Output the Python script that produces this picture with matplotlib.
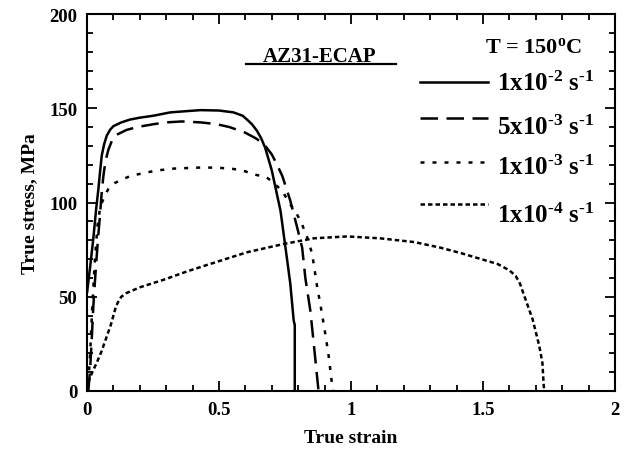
import matplotlib
matplotlib.use("Agg")
import matplotlib.pyplot as plt
from matplotlib.ticker import MultipleLocator
from matplotlib.lines import Line2D

plt.rcParams['font.family'] = ['Liberation Serif', 'DejaVu Serif']
plt.rcParams['font.weight'] = 'bold'
plt.rcParams['mathtext.fontset'] = 'custom'
plt.rcParams['mathtext.rm'] = 'Liberation Serif:bold'
plt.rcParams['mathtext.it'] = 'Liberation Serif:bold'
plt.rcParams['mathtext.bf'] = 'Liberation Serif:bold'
plt.rcParams['mathtext.default'] = 'rm'

# ---- data ----
strain_1e2 = [0, 0.012, 0.024, 0.035, 0.043, 0.05, 0.056, 0.065, 0.075, 0.087, 0.1, 0.13,
              0.163, 0.2, 0.25, 0.315, 0.38, 0.43, 0.5, 0.555, 0.59, 0.606, 0.625, 0.644,
              0.66, 0.675, 0.70, 0.72, 0.733, 0.75, 0.77, 0.783, 0.787, 0.787]
stress_1e2 = [52, 66, 81, 97, 107, 117, 125, 131, 135.5, 138.5, 140.5, 142.5,
              144, 145, 146, 147.8, 148.5, 149, 148.8, 147.8, 146, 144, 141.5, 138,
              134, 129, 117, 104, 95.6, 78, 57, 37.3, 35, 0]

strain_5e3 = [0.005, 0.012, 0.018, 0.024, 0.03, 0.037, 0.043, 0.049, 0.055, 0.062, 0.07,
              0.081, 0.095, 0.113, 0.15, 0.189, 0.25, 0.30, 0.36, 0.43, 0.49, 0.54, 0.6,
              0.64, 0.67, 0.70, 0.72, 0.74, 0.77, 0.796, 0.815, 0.827, 0.846, 0.859,
              0.872, 0.877]
stress_5e3 = [0, 12, 27.6, 45, 58, 72, 83, 93, 104, 114, 122,
              128, 133, 136, 138.5, 140, 141.5, 142.5, 143, 142.5, 141.6, 140, 137,
              134, 131, 125.5, 120, 114, 101, 86.8, 76, 60, 42.6, 25,
              7, 0]

strain_1e3 = [0.005, 0.012, 0.02, 0.03, 0.04, 0.049, 0.058, 0.068, 0.08, 0.1, 0.13, 0.163,
              0.21, 0.265, 0.33, 0.44, 0.5, 0.555, 0.6, 0.63, 0.68, 0.71, 0.74, 0.77,
              0.79, 0.81, 0.834, 0.853, 0.872, 0.884, 0.903, 0.916, 0.928, 0.932]
stress_1e3 = [4.6, 20, 45, 70, 88, 96.5, 100.5, 103.6, 107, 110, 112, 114,
              115.5, 117, 118, 118.6, 118.4, 117.8, 116.5, 115, 113.4, 110, 106, 99,
              95, 90, 81.5, 72.7, 55, 46, 30, 18, 3.7, 0]

strain_1e4 = [0.005, 0.02, 0.037, 0.055, 0.075, 0.09, 0.1, 0.11, 0.119, 0.13, 0.15, 0.2,
              0.29, 0.38, 0.48, 0.606, 0.745, 0.859, 0.985, 1.11, 1.24, 1.34, 1.42,
              1.48, 1.555, 1.60, 1.624, 1.64, 1.656, 1.688, 1.713, 1.725, 1.73, 1.732]
stress_1e4 = [4.6, 10, 15, 21, 29, 35, 40, 45, 47.5, 50, 52, 55,
              59, 63.5, 68, 73.6, 78, 81, 82, 81, 79, 76, 73,
              70.5, 67.4, 64, 61, 57, 50.6, 38, 24, 15, 3, 0]

labels = [r'1x10$^{\text{-}2}$ s$^{\text{-}1}$', r'5x10$^{\text{-}3}$ s$^{\text{-}1}$',
          r'1x10$^{\text{-}3}$ s$^{\text{-}1}$', r'1x10$^{\text{-}4}$ s$^{\text{-}1}$']
x_ticks = [0, 0.5, 1, 1.5, 2]
x_ticklabels = ['0', '0.5', '1', '1.5', '2']
y_ticks = [0, 50, 100, 150, 200]

fig = plt.figure(figsize=(6.28, 4.52), dpi=100)
ax = fig.add_axes([87/628, 1-392/452, 528/628, 377/452])

LW = 1.8
styles = [dict(linestyle='-'),
          dict(dashes=(7.0, 3.4)),
          dict(dashes=(1.6, 3.2)),
          dict(dashes=(1.8, 1.2))]
series = [(strain_1e2, stress_1e2), (strain_5e3, stress_5e3),
          (strain_1e3, stress_1e3), (strain_1e4, stress_1e4)]
for (xs, ys), st in zip(series, styles):
    ax.plot(xs, ys, color='black', lw=LW, solid_capstyle='butt', dash_capstyle='butt', **st)

ax.set_xlim(0, 2)
ax.set_ylim(0, 200)
ax.set_xticks(x_ticks)
ax.set_xticklabels(x_ticklabels)
ax.set_yticks(y_ticks)
ax.xaxis.set_minor_locator(MultipleLocator(0.1))
ax.yaxis.set_minor_locator(MultipleLocator(10))
ax.tick_params(which='both', direction='in', top=True, right=True, width=1.3,
               labelsize=13.5, pad=7)
ax.tick_params(which='major', length=7)
ax.tick_params(which='minor', length=4)
for sp in ax.spines.values():
    sp.set_linewidth(1.5)
for lab in ax.get_xticklabels() + ax.get_yticklabels():
    lab.set_fontweight('bold')

ax.set_xlabel('True strain', fontsize=14, fontweight='bold', labelpad=8)
ax.set_ylabel('True stress, MPa', fontsize=14, fontweight='bold', labelpad=8)

# legend drawn manually
handle_y = [0.820, 0.724, 0.607, 0.496]
text_y = [0.798, 0.682, 0.576, 0.448]
for hy, ty, st, lab in zip(handle_y, text_y, styles, labels):
    ax.add_line(Line2D([0.631, 0.759], [hy, hy], transform=ax.transAxes,
                       color='black', lw=LW, dash_capstyle='butt', **st))
    ax.text(0.777, ty, lab, transform=ax.transAxes, fontsize=18,
            fontweight='bold', ha='left', va='baseline')

ax.text(0.845, 0.899, r'T = 150$^{o}$C', transform=ax.transAxes, fontsize=16,
        fontweight='bold', ha='center', va='baseline')
ax.text(0.441, 0.876, 'AZ31-ECAP', transform=ax.transAxes, fontsize=15,
        fontweight='bold', ha='center', va='baseline')
ax.add_line(Line2D([0.301, 0.585], [0.868, 0.868], transform=ax.transAxes,
                   color='black', lw=1.6))

fig.savefig('out.png', dpi=100)
